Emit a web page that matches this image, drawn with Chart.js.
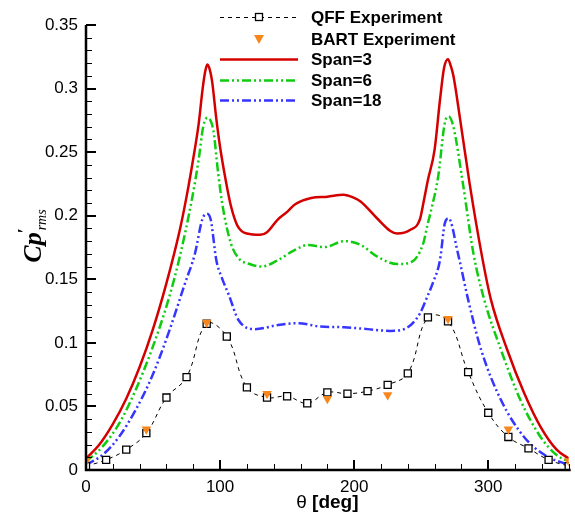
<!DOCTYPE html>
<html>
<head>
<meta charset="utf-8">
<script src="https://cdn.jsdelivr.net/npm/chart.js@4/dist/chart.umd.min.js"></script>
<style>
  html, body { margin: 0; padding: 0; background: #fff; }
  #wrap { width: 575px; height: 517px; }
</style>
</head>
<body>
<div id="wrap"><canvas id="cp" width="575" height="517"></canvas></div>
<script>
// QFF experiment (open squares, dashed spline)
const qffTheta = [0, 15, 30, 45, 60, 75, 90, 105, 120, 135, 150, 165, 180, 195, 210, 225, 240, 255, 270, 285, 300, 315, 330, 345, 360];
const qffCp = [0.003, 0.008, 0.016, 0.029, 0.057, 0.073, 0.115, 0.105, 0.065, 0.057, 0.058, 0.0525, 0.061, 0.060, 0.062, 0.067, 0.076, 0.120, 0.117, 0.077, 0.045, 0.026, 0.017, 0.008, 0.003];

// BART experiment (triangles)
const bartTheta = [0, 45, 90, 135, 180, 225, 270, 315, 360];
const bartCp = [0.007, 0.032, 0.116, 0.060, 0.056, 0.059, 0.119, 0.032, 0.007];

// Span = 3
const span3Theta = [0, 10, 20, 30, 40, 50, 60, 70, 75, 80, 84, 87, 89, 90.5, 92, 94, 97, 100, 104, 108, 113, 120, 130, 135, 143, 150, 156, 168, 180, 192, 200, 205, 217, 227, 232, 242, 249, 252, 255, 260, 264, 267, 270, 272, 274, 279, 286, 295, 302, 314, 327, 339, 351, 360];
const span3Cp = [0.009, 0.020, 0.036, 0.056, 0.081, 0.111, 0.147, 0.189, 0.215, 0.245, 0.272, 0.300, 0.314, 0.319, 0.316, 0.306, 0.278, 0.254, 0.229, 0.208, 0.192, 0.186, 0.185, 0.187, 0.197, 0.203, 0.209, 0.214, 0.215, 0.2165, 0.214, 0.211, 0.198, 0.188, 0.186, 0.189, 0.197, 0.212, 0.228, 0.252, 0.291, 0.316, 0.323, 0.318, 0.310, 0.276, 0.226, 0.170, 0.134, 0.095, 0.060, 0.034, 0.016, 0.009];

// Span = 6
const span6Theta = [0, 12, 25, 37, 49, 61.5, 70, 79, 84, 87.4, 90.5, 95, 98.5, 102, 108, 113.7, 122, 131, 143, 155.6, 165.4, 177.8, 192.5, 204.8, 217, 232, 241.7, 251.6, 254.5, 258, 262.7, 267.6, 270.5, 274, 281, 289, 297, 309.5, 324, 339, 351, 360];
const span6Cp = [0.0065, 0.018, 0.037, 0.063, 0.0945, 0.134, 0.168, 0.213, 0.244, 0.270, 0.277, 0.267, 0.234, 0.207, 0.1785, 0.1667, 0.162, 0.160, 0.165, 0.173, 0.177, 0.1753, 0.180, 0.177, 0.168, 0.162, 0.163, 0.1785, 0.192, 0.207, 0.231, 0.273, 0.278, 0.270, 0.226, 0.170, 0.134, 0.0945, 0.055, 0.026, 0.0118, 0.0068];

// Span = 18
const span18Theta = [0, 12.3, 24.6, 36.9, 49.2, 61.5, 73.9, 81.2, 86.7, 90, 93, 97.2, 101, 106.4, 113.7, 126, 143.3, 158, 175, 192.5, 210, 227, 239, 249, 254, 259, 264, 267.6, 270.6, 273, 276.2, 279, 285, 294.7, 309.5, 326.7, 344, 360];
const span18Cp = [0.004, 0.0118, 0.026, 0.047, 0.0735, 0.1076, 0.147, 0.170, 0.197, 0.2016, 0.197, 0.165, 0.152, 0.138, 0.118, 0.1108, 0.114, 0.1155, 0.1128, 0.1123, 0.1108, 0.1094, 0.1116, 0.123, 0.135, 0.148, 0.165, 0.194, 0.198, 0.192, 0.176, 0.163, 0.134, 0.0945, 0.055, 0.026, 0.0105, 0.0042];

const xTicks = [0, 100, 200, 300];
const yTicks = [0, 0.05, 0.1, 0.15, 0.2, 0.25, 0.3, 0.35];
const xMinorStep = 20;
const yMinorStep = 0.01;

const pts = (xs, ys) => xs.map((t, i) => ({ x: t, y: ys[i] }));

const RED = '#d40000', GREEN = '#10cc10', BLUE = '#3535ff', ORANGE = '#f7861c';
const DASH_DOT_DOT = [9, 3, 2, 3, 2, 3];

// axes, inward ticks, axis titles, legend
const decor = {
  id: 'decor',
  afterDraw(chart) {
    const { ctx, chartArea: a, scales: { x, y } } = chart;
    ctx.save();

    // minor ticks
    ctx.strokeStyle = '#000';
    ctx.lineWidth = 1;
    ctx.beginPath();
    for (let i = 0; i * xMinorStep <= 360; i++) {
      const px = Math.round(x.getPixelForValue(i * xMinorStep)) + 0.5;
      ctx.moveTo(px, a.bottom); ctx.lineTo(px, a.bottom - 6);
    }
    for (let i = 0; i * yMinorStep <= 0.3501; i++) {
      const py = Math.round(y.getPixelForValue(i * yMinorStep)) + 0.5;
      ctx.moveTo(a.left, py); ctx.lineTo(a.left + 6, py);
    }
    ctx.stroke();

    // major ticks
    ctx.lineWidth = 2;
    ctx.beginPath();
    xTicks.forEach(v => {
      const px = Math.round(x.getPixelForValue(v));
      ctx.moveTo(px, a.bottom); ctx.lineTo(px, a.bottom - 10);
    });
    yTicks.forEach(v => {
      const py = Math.round(y.getPixelForValue(v));
      ctx.moveTo(a.left, py); ctx.lineTo(a.left + 10, py);
    });
    ctx.stroke();

    // axis lines
    ctx.lineWidth = 2.5;
    ctx.beginPath();
    ctx.moveTo(a.left, a.top);
    ctx.lineTo(a.left, a.bottom);
    ctx.lineTo(a.right + 2, a.bottom);
    ctx.stroke();

    // x title: θ [deg]
    ctx.fillStyle = '#000';
    ctx.textBaseline = 'alphabetic';
    const thFont = '19px "Liberation Sans", Arial, sans-serif';
    const degFont = 'bold 19px "Liberation Sans", Arial, sans-serif';
    ctx.font = thFont;
    const wTh = ctx.measureText('θ ').width;
    ctx.font = degFont;
    const wDeg = ctx.measureText('[deg]').width;
    let sx = (a.left + a.right) / 2 - (wTh + wDeg) / 2;
    ctx.textAlign = 'left';
    ctx.font = thFont;
    ctx.fillText('θ ', sx, 508);
    ctx.font = degFont;
    ctx.fillText('[deg]', sx + wTh, 508);

    // y title: Cp'rms
    ctx.save();
    ctx.translate(41, 236);
    ctx.rotate(-Math.PI / 2);
    const bigFont = 'italic bold 26px "Liberation Serif", "Times New Roman", serif';
    const primeFont = 'bold 18px "Liberation Serif", serif';
    const subFont = 'italic 14px "Liberation Serif", serif';
    ctx.font = bigFont;
    const wCp = ctx.measureText('Cp').width;
    ctx.font = subFont;
    const wSub = ctx.measureText('rms').width;
    const total = wCp + 2 + wSub;
    const x0 = -total / 2;
    ctx.font = bigFont;
    ctx.fillText('Cp', x0, 0);
    ctx.font = primeFont;
    ctx.fillText('′', x0 + wCp - 1, -10);
    ctx.font = subFont;
    ctx.fillText('rms', x0 + wCp + 2, 5);
    ctx.restore();

    // legend
    const rows = [17, 39, 59, 80, 100];
    const lx0 = 220, lx1 = 298, tx = 311;
    const ds = chart.data.datasets;
    ctx.font = 'bold 17px "Liberation Sans", Arial, sans-serif';
    ctx.textBaseline = 'middle';
    ds.forEach((d, i) => {
      const ry = rows[i];
      if (d.showLine !== false) {
        ctx.save();
        ctx.strokeStyle = d.borderColor;
        ctx.lineWidth = d.borderWidth;
        ctx.setLineDash(d.borderDash || []);
        ctx.beginPath();
        ctx.moveTo(lx0, ry + 0.5); ctx.lineTo(lx1, ry + 0.5);
        ctx.stroke();
        ctx.restore();
      }
      const cx = (lx0 + lx1) / 2;
      if (d.pointStyle === 'rect' && d.pointRadius > 0) {
        ctx.fillStyle = '#fff';
        ctx.fillRect(cx - 3.5, ry - 3.5, 7, 7);
        ctx.strokeStyle = '#000';
        ctx.lineWidth = 1.3;
        ctx.strokeRect(cx - 3.5, ry - 3.5, 7, 7);
      } else if (d.pointStyle === 'triangle') {
        ctx.fillStyle = d.pointBackgroundColor;
        ctx.beginPath();
        ctx.moveTo(cx - 5, ry - 4); ctx.lineTo(cx + 5, ry - 4); ctx.lineTo(cx, ry + 5);
        ctx.closePath();
        ctx.fill();
      }
      ctx.fillStyle = '#000';
      ctx.textAlign = 'left';
      ctx.fillText(d.label, tx, ry + 1);
    });
    ctx.restore();
  }
};

Chart.defaults.font.family = '"Liberation Sans", Arial, sans-serif';
Chart.defaults.color = '#000';

new Chart(document.getElementById('cp'), {
  type: 'scatter',
  data: {
    datasets: [
      {
        label: 'QFF Experiment',
        data: pts(qffTheta, qffCp),
        showLine: true,
        borderColor: '#000',
        borderWidth: 1,
        borderDash: [4, 4],
        tension: 0.4,
        pointStyle: 'rect',
        pointRadius: 5,
        pointBorderWidth: 1.3,
        pointBorderColor: '#000',
        pointBackgroundColor: '#fff',
        order: 1
      },
      {
        label: 'BART Experiment',
        data: pts(bartTheta, bartCp),
        showLine: false,
        pointStyle: 'triangle',
        rotation: 180,
        pointRadius: 5.5,
        pointBorderWidth: 0,
        pointBackgroundColor: ORANGE,
        pointBorderColor: ORANGE,
        order: 0
      },
      {
        label: 'Span=3',
        data: pts(span3Theta, span3Cp),
        showLine: true,
        borderColor: RED,
        borderWidth: 2.5,
        cubicInterpolationMode: 'monotone',
        pointRadius: 0,
        order: 2
      },
      {
        label: 'Span=6',
        data: pts(span6Theta, span6Cp),
        showLine: true,
        borderColor: GREEN,
        borderWidth: 2.5,
        borderDash: DASH_DOT_DOT,
        cubicInterpolationMode: 'monotone',
        pointRadius: 0,
        order: 3
      },
      {
        label: 'Span=18',
        data: pts(span18Theta, span18Cp),
        showLine: true,
        borderColor: BLUE,
        borderWidth: 2.5,
        borderDash: DASH_DOT_DOT,
        cubicInterpolationMode: 'monotone',
        pointRadius: 0,
        order: 4
      }
    ]
  },
  options: {
    responsive: false,
    animation: false,
    layout: { padding: { top: 25, right: 2, left: 0, bottom: 0 } },
    plugins: { legend: { display: false }, tooltip: { enabled: false } },
    scales: {
      x: {
        type: 'linear',
        min: 0,
        max: 360,
        afterBuildTicks: s => { s.ticks = xTicks.map(v => ({ value: v })); },
        afterFit: s => { s.height = 47; },
        grid: { display: true, drawOnChartArea: false, drawTicks: false },
        border: { display: false },
        ticks: { font: { size: 17 }, padding: 7, maxRotation: 0, autoSkip: false }
      },
      y: {
        type: 'linear',
        min: 0,
        max: 0.35,
        afterBuildTicks: s => { s.ticks = yTicks.map(v => ({ value: v })); },
        afterFit: s => { s.width = 86; },
        grid: { display: true, drawOnChartArea: false, drawTicks: false },
        border: { display: false },
        ticks: { font: { size: 17 }, padding: 8, autoSkip: false, callback: v => String(+v.toFixed(2)) }
      }
    }
  },
  plugins: [decor]
});
</script>
</body>
</html>
